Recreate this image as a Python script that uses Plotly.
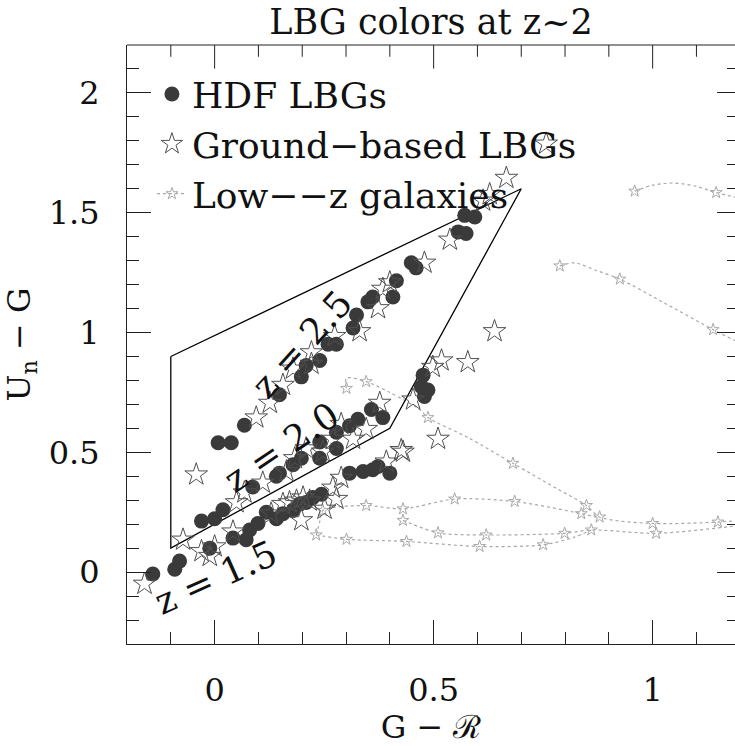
import plotly.graph_objects as go

# ---------------- data ----------------
hdf_x = [-0.141, -0.091, -0.080, -0.011, 0.042, 0.072, 0.080, 0.099, 0.118, 0.141, 0.156, 0.179, 0.194, 0.209,
         0.224, 0.244, 0.308, 0.339, 0.361, 0.373, 0.400,
         -0.030, 0.000, 0.019, 0.087, 0.141, 0.148, 0.179, 0.198, 0.240, 0.240, 0.278, 0.278, 0.308, 0.327,
         0.358, 0.384, 0.476, 0.472, 0.487, 0.479,
         0.008, 0.038, 0.068, 0.148, 0.198, 0.209, 0.240, 0.259, 0.278, 0.316, 0.324, 0.350, 0.361, 0.407,
         0.415, 0.449, 0.460, 0.571, 0.594, 0.556, 0.574]
hdf_y = [-0.008, 0.012, 0.046, 0.100, 0.142, 0.135, 0.176, 0.203, 0.250, 0.223, 0.244, 0.257, 0.284, 0.291,
         0.311, 0.325, 0.413, 0.420, 0.427, 0.441, 0.413,
         0.213, 0.223, 0.260, 0.355, 0.400, 0.413, 0.448, 0.475, 0.475, 0.543, 0.516, 0.584, 0.611, 0.638,
         0.679, 0.645, 0.822, 0.774, 0.760, 0.733,
         0.540, 0.540, 0.613, 0.740, 0.815, 0.862, 0.883, 0.951, 0.951, 1.019, 1.073, 1.128, 1.148, 1.148,
         1.216, 1.291, 1.270, 1.489, 1.482, 1.420, 1.413]

gb_x = [-0.160, -0.072, -0.030, -0.011, 0.000, 0.042, 0.129, 0.156, 0.171, 0.187, 0.198, 0.202, 0.217, 0.251,
        0.270, 0.278, 0.289, 0.392, 0.430,
        -0.042, 0.050, 0.068, 0.110, 0.164, 0.183, 0.209, 0.247, 0.270, 0.289, 0.316, 0.346, 0.377, 0.426, 0.453,
        0.095, 0.126, 0.156, 0.179, 0.221, 0.221, 0.274, 0.331, 0.373, 0.384, 0.400,
        0.757, 0.666, 0.628, 0.613, 0.537, 0.479, 0.639, 0.518, 0.578, 0.498, 0.510]
gb_y = [-0.049, 0.135, 0.087, 0.067, 0.107, 0.169, 0.244, 0.284, 0.291, 0.298, 0.216, 0.311, 0.298, 0.264,
        0.352, 0.305, 0.393, 0.461, 0.502,
        0.407, 0.291, 0.332, 0.373, 0.420, 0.475, 0.516, 0.502, 0.556, 0.618, 0.556, 0.597, 0.706, 0.509, 0.720,
        0.645, 0.706, 0.781, 0.849, 0.869, 0.917, 0.985, 1.005, 1.101, 1.182, 1.209,
        1.788, 1.645, 1.577, 1.550, 1.387, 1.291, 1.005, 0.883, 0.876, 0.856, 0.556]

# low-z galaxy tracks (dotted curves) and their marked points
track_x = [
    [0.959, 1.000, 1.046, 1.100, 1.145, 1.200],
    [0.788, 0.822, 0.870, 0.925, 1.030, 1.138, 1.200],
    [0.301, 0.301, 0.346, 0.400, 0.468, 0.487, 0.580, 0.681, 0.780, 0.849, 0.879, 1.000, 1.149, 1.200],
    [0.232, 0.240, 0.247, 0.346, 0.430, 0.548, 0.685, 0.837, 0.879],
    [0.430, 0.510, 0.620, 0.799, 0.860, 1.008, 1.200],
    [0.232, 0.301, 0.438, 0.605, 0.750, 0.820, 0.860],
]
track_y = [
    [1.590, 1.615, 1.624, 1.610, 1.584, 1.560],
    [1.278, 1.291, 1.260, 1.223, 1.120, 1.012, 0.955],
    [0.767, 0.810, 0.795, 0.750, 0.679, 0.645, 0.560, 0.454, 0.350, 0.278, 0.230, 0.203, 0.209, 0.216],
    [0.155, 0.210, 0.257, 0.278, 0.264, 0.305, 0.295, 0.244, 0.226],
    [0.216, 0.164, 0.155, 0.162, 0.176, 0.162, 0.195],
    [0.155, 0.137, 0.128, 0.107, 0.114, 0.145, 0.176],
]
mark_x = [0.959, 1.145, 0.788, 0.925, 1.138, 0.301, 0.346, 0.487, 0.681, 0.849, 0.879, 1.000, 1.149,
          0.247, 0.346, 0.430, 0.548, 0.685, 0.837, 0.430, 0.510, 0.620, 0.799, 0.860, 1.008,
          0.232, 0.301, 0.438, 0.605, 0.750]
mark_y = [1.590, 1.584, 1.278, 1.223, 1.012, 0.767, 0.795, 0.645, 0.454, 0.278, 0.230, 0.203, 0.209,
          0.257, 0.278, 0.264, 0.305, 0.295, 0.244, 0.216, 0.164, 0.155, 0.162, 0.176, 0.162,
          0.155, 0.137, 0.128, 0.107, 0.114]

# selection window
box_x = [-0.1, 0.7, 0.4, -0.1, -0.1]
box_y = [0.9, 1.6, 0.6, 0.1, 0.9]

# redshift labels
zlab_text = ["z = 2.5", "z = 2.0", "z = 1.5"]
zlab_x = [0.198, 0.152, 0.002]
zlab_y = [0.951, 0.519, -0.022]
zlab_angle = [-48, -34, -24]

# axis ranges and tick values of the top frame
X_RANGE = [-0.2, 1.188]
Y_RANGE = [-0.3, 2.2]
top_major = [0.0, 0.5, 1.0]
top_minor = [-0.1, 0.1, 0.2, 0.3, 0.4, 0.6, 0.7, 0.8, 0.9, 1.1]

FONT = "DejaVu Serif"
GRAY = "#a8a8a8"
INK = "#222"
PLOT_H = 746 - 45 - 91
Y_PER_PX = (Y_RANGE[1] - Y_RANGE[0]) / PLOT_H

fig = go.Figure()

for tx, ty in zip(track_x, track_y):
    fig.add_trace(go.Scatter(
        x=tx, y=ty, mode="lines", line=dict(color=GRAY, width=1.2, dash="dot", shape="spline", smoothing=0.8),
        showlegend=False, hoverinfo="skip"))
fig.add_trace(go.Scatter(
    x=mark_x, y=mark_y, mode="markers",
    marker=dict(symbol="star-open", size=9, color=GRAY, line=dict(width=1, color=GRAY)),
    showlegend=False, hoverinfo="skip"))
fig.add_trace(go.Scatter(
    x=[None], y=[None], mode="lines+markers", name="Low\u2212\u2212z galaxies",
    line=dict(color=GRAY, width=1.2, dash="dot"),
    marker=dict(symbol="star-open", size=9, color=GRAY),
    legendrank=3, legendgroup="c"))

fig.add_trace(go.Scatter(
    x=box_x, y=box_y, mode="lines", line=dict(color="black", width=1.3), showlegend=False, hoverinfo="skip"))

fig.add_trace(go.Scatter(
    x=hdf_x, y=hdf_y, mode="markers", name="HDF LBGs",
    marker=dict(symbol="circle", size=15, color="#3a3a3a", line=dict(width=0)),
    legendrank=1, legendgroup="a"))

fig.add_trace(go.Scatter(
    x=gb_x, y=gb_y, mode="markers", name="Ground\u2212based LBGs",
    marker=dict(symbol="star-open", size=17, color="#505050", line=dict(width=1, color="#505050")),
    legendrank=2, legendgroup="b"))

# top frame ticks, placed through the x axis scale
tick_x, tick_y = [], []
for vals, plen in ((top_major, 24), (top_minor, 12)):
    for v in vals:
        tick_x += [v, v, None]
        tick_y += [Y_RANGE[1], Y_RANGE[1] - plen * Y_PER_PX, None]
fig.add_trace(go.Scatter(x=tick_x, y=tick_y, mode="lines", line=dict(color=INK, width=1),
                         showlegend=False, hoverinfo="skip", cliponaxis=False))

# dummy trace that activates the right-hand tick axis
fig.add_trace(go.Scatter(x=[None], y=[None], yaxis="y2", showlegend=False, hoverinfo="skip"))

for t, x, y, a in zip(zlab_text, zlab_x, zlab_y, zlab_angle):
    fig.add_annotation(x=x, y=y, text=t, textangle=a, showarrow=False,
                       font=dict(family=FONT, size=36, color="#111"),
                       xanchor="center", yanchor="middle")

# top frame line
fig.add_shape(type="line", xref="paper", yref="paper", x0=0, x1=1, y0=1, y1=1,
              line=dict(color=INK, width=1), layer="above")

minor_main = dict(dtick=0.1, ticks="inside", ticklen=12, tickwidth=1, tickcolor=INK, showgrid=False)

fig.update_layout(
    width=735, height=746,
    margin=dict(l=127, r=0, t=45, b=91),
    paper_bgcolor="white", plot_bgcolor="white",
    font=dict(family=FONT, color="#111"),
    title=dict(text="LBG colors at z~2", font=dict(family=FONT, size=35, color="#111"),
               x=0.5, xref="paper", y=1 - 22 / 746, yref="container", yanchor="middle", xanchor="center"),
    showlegend=True,
    legend=dict(x=0.041, xanchor="left", y=0.968, yanchor="top", bgcolor="rgba(0,0,0,0)",
                font=dict(family=FONT, size=36, color="#111"), traceorder="grouped",
                tracegroupgap=0, itemwidth=30),
    xaxis=dict(range=X_RANGE, tick0=0, dtick=0.5, ticks="inside", ticklen=24, tickwidth=1,
               tickcolor=INK, showline=True, linecolor=INK, linewidth=1, mirror=False,
               showgrid=False, zeroline=False, minor=minor_main,
               tickfont=dict(family=FONT, size=32, color="#111"), ticklabelstandoff=18,
               title=dict(text="G \u2212 \u211b", font=dict(family=FONT, size=32, color="#111"), standoff=14)),
    yaxis=dict(range=Y_RANGE, tick0=0, dtick=0.5, ticks="inside", ticklen=24, tickwidth=1,
               tickcolor=INK, showline=True, linecolor=INK, linewidth=1, mirror=False,
               showgrid=False, zeroline=False, minor=minor_main,
               tickfont=dict(family=FONT, size=32, color="#111"), ticklabelstandoff=20,
               title=dict(text="U<sub>n</sub> \u2212 G", font=dict(family=FONT, size=32, color="#111"),
                          standoff=8)),
    yaxis2=dict(overlaying="y", side="right", anchor="x", range=Y_RANGE, tick0=0, dtick=0.5,
                ticks="inside", ticklen=18, tickwidth=1, tickcolor=INK, showline=False,
                showgrid=False, zeroline=False, showticklabels=False,
                minor=dict(dtick=0.1, ticks="inside", ticklen=8, tickwidth=1, tickcolor=INK, showgrid=False)),
)

fig.write_html("out.html")
